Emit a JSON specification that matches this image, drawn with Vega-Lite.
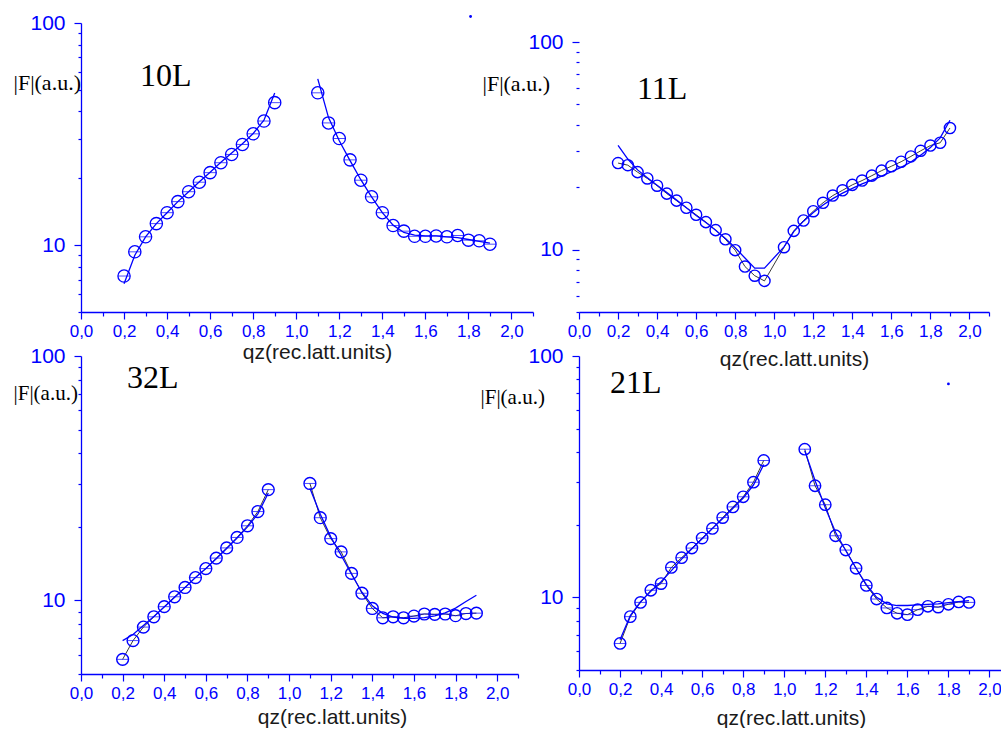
{
  "$schema": "https://vega.github.io/schema/vega-lite/v6.json",
  "padding": {"left": 13, "top": 12, "right": 0, "bottom": 0},
  "background": "white",
  "columns": 2,
  "align": "each",
  "bounds": "flush",
  "spacing": {"row": 44, "column": 46},
  "datasets": {
    "d10": [
      {"q":0.2,"F":7.26,"s":"a"},{"q":0.25,"F":9.33,"s":"a"},{"q":0.3,"F":10.9,"s":"a"},{"q":0.35,"F":12.5,"s":"a"},{"q":0.4,"F":14.0,"s":"a"},{"q":0.45,"F":15.7,"s":"a"},{"q":0.5,"F":17.4,"s":"a"},{"q":0.55,"F":19.2,"s":"a"},{"q":0.6,"F":21.2,"s":"a"},{"q":0.65,"F":23.5,"s":"a"},{"q":0.7,"F":25.6,"s":"a"},{"q":0.75,"F":28.4,"s":"a"},{"q":0.8,"F":31.7,"s":"a"},{"q":0.85,"F":36.2,"s":"a"},{"q":0.9,"F":43.8,"s":"a"},
      {"q":1.1,"F":48.5,"s":"b"},{"q":1.15,"F":35.5,"s":"b"},{"q":1.2,"F":30.2,"s":"b"},{"q":1.25,"F":24.2,"s":"b"},{"q":1.3,"F":19.6,"s":"b"},{"q":1.35,"F":16.5,"s":"b"},{"q":1.4,"F":14.0,"s":"b"},{"q":1.45,"F":12.25,"s":"b"},{"q":1.5,"F":11.56,"s":"b"},{"q":1.55,"F":10.96,"s":"b"},{"q":1.6,"F":10.96,"s":"b"},{"q":1.65,"F":11.0,"s":"b"},{"q":1.7,"F":10.9,"s":"b"},{"q":1.75,"F":11.05,"s":"b"},{"q":1.8,"F":10.53,"s":"b"},{"q":1.85,"F":10.46,"s":"b"},{"q":1.9,"F":10.1,"s":"b"}
    ],
    "f10": [
      {"q":0.2,"F":6.7,"s":"a"},{"q":0.25,"F":9.0,"s":"a"},{"q":0.3,"F":10.9,"s":"a"},{"q":0.35,"F":12.5,"s":"a"},{"q":0.4,"F":14.0,"s":"a"},{"q":0.45,"F":15.7,"s":"a"},{"q":0.5,"F":17.4,"s":"a"},{"q":0.55,"F":19.3,"s":"a"},{"q":0.6,"F":21.3,"s":"a"},{"q":0.65,"F":23.6,"s":"a"},{"q":0.7,"F":26.0,"s":"a"},{"q":0.75,"F":28.6,"s":"a"},{"q":0.8,"F":31.8,"s":"a"},{"q":0.85,"F":36.5,"s":"a"},{"q":0.9,"F":48.4,"s":"a"},
      {"q":1.1,"F":56,"s":"b"},{"q":1.15,"F":37.5,"s":"b"},{"q":1.2,"F":29.5,"s":"b"},{"q":1.25,"F":24,"s":"b"},{"q":1.3,"F":19.7,"s":"b"},{"q":1.35,"F":16.5,"s":"b"},{"q":1.4,"F":14.0,"s":"b"},{"q":1.45,"F":12.3,"s":"b"},{"q":1.5,"F":11.4,"s":"b"},{"q":1.55,"F":11.1,"s":"b"},{"q":1.6,"F":11.0,"s":"b"},{"q":1.65,"F":11.0,"s":"b"},{"q":1.7,"F":10.9,"s":"b"},{"q":1.75,"F":10.8,"s":"b"},{"q":1.8,"F":10.6,"s":"b"},{"q":1.85,"F":10.4,"s":"b"},{"q":1.9,"F":10.2,"s":"b"}
    ],
    "s10": [{"q":1.81,"F":107}],
    "d11": [
      {"q":0.2,"F":26.1},{"q":0.25,"F":25.5},{"q":0.3,"F":23.6},{"q":0.35,"F":22.0},{"q":0.4,"F":20.3},{"q":0.45,"F":18.6},{"q":0.5,"F":17.2},{"q":0.55,"F":15.9},{"q":0.6,"F":14.7},{"q":0.65,"F":13.55},{"q":0.7,"F":12.4},{"q":0.75,"F":11.2},{"q":0.8,"F":9.93},{"q":0.85,"F":8.28},{"q":0.9,"F":7.48},{"q":0.95,"F":7.06},{"q":1.05,"F":10.26},{"q":1.1,"F":12.3},{"q":1.15,"F":13.8},{"q":1.2,"F":15.3},{"q":1.25,"F":16.8},{"q":1.3,"F":18.2},{"q":1.35,"F":19.3},{"q":1.4,"F":20.5},{"q":1.45,"F":21.5},{"q":1.5,"F":22.7},{"q":1.55,"F":24.0},{"q":1.6,"F":25.2},{"q":1.65,"F":26.5},{"q":1.7,"F":28.1},{"q":1.75,"F":29.9},{"q":1.8,"F":31.7},{"q":1.85,"F":32.7},{"q":1.9,"F":38.5}
    ],
    "f11": [
      {"q":0.2,"F":31.8},{"q":0.25,"F":27.3},{"q":0.3,"F":24.2},{"q":0.35,"F":22.2},{"q":0.4,"F":20.4},{"q":0.45,"F":18.8},{"q":0.5,"F":17.3},{"q":0.55,"F":15.9},{"q":0.6,"F":14.6},{"q":0.65,"F":13.5},{"q":0.7,"F":12.4},{"q":0.75,"F":11.3},{"q":0.8,"F":10.2},{"q":0.85,"F":9.1},{"q":0.9,"F":8.13},{"q":0.95,"F":8.13},{"q":1.05,"F":10.3},{"q":1.1,"F":12.2},{"q":1.15,"F":13.7},{"q":1.2,"F":15.1},{"q":1.25,"F":16.4},{"q":1.3,"F":17.6},{"q":1.35,"F":18.7},{"q":1.4,"F":19.7},{"q":1.45,"F":20.7},{"q":1.5,"F":21.6},{"q":1.55,"F":22.6},{"q":1.6,"F":23.7},{"q":1.65,"F":24.9},{"q":1.7,"F":26.4},{"q":1.75,"F":28.5},{"q":1.8,"F":31.0},{"q":1.85,"F":34.5},{"q":1.9,"F":42.0}
    ],
    "d32": [
      {"q":0.2,"F":5.74,"s":"a"},{"q":0.25,"F":6.85,"s":"a"},{"q":0.3,"F":7.78,"s":"a"},{"q":0.35,"F":8.57,"s":"a"},{"q":0.4,"F":9.43,"s":"a"},{"q":0.45,"F":10.35,"s":"a"},{"q":0.5,"F":11.3,"s":"a"},{"q":0.55,"F":12.4,"s":"a"},{"q":0.6,"F":13.5,"s":"a"},{"q":0.65,"F":14.9,"s":"a"},{"q":0.7,"F":16.4,"s":"a"},{"q":0.75,"F":18.1,"s":"a"},{"q":0.8,"F":20.2,"s":"a"},{"q":0.85,"F":23.1,"s":"a"},{"q":0.9,"F":28.4,"s":"a"},
      {"q":1.1,"F":30.1,"s":"b"},{"q":1.15,"F":21.8,"s":"b"},{"q":1.2,"F":17.9,"s":"b"},{"q":1.25,"F":15.8,"s":"b"},{"q":1.3,"F":12.9,"s":"b"},{"q":1.35,"F":10.7,"s":"b"},{"q":1.4,"F":9.27,"s":"b"},{"q":1.45,"F":8.49,"s":"b"},{"q":1.5,"F":8.57,"s":"b"},{"q":1.55,"F":8.49,"s":"b"},{"q":1.6,"F":8.63,"s":"b"},{"q":1.65,"F":8.8,"s":"b"},{"q":1.7,"F":8.77,"s":"b"},{"q":1.75,"F":8.8,"s":"b"},{"q":1.8,"F":8.66,"s":"b"},{"q":1.85,"F":8.84,"s":"b"},{"q":1.9,"F":8.87,"s":"b"}
    ],
    "f32": [
      {"q":0.2,"F":6.85,"s":"a"},{"q":0.25,"F":7.25,"s":"a"},{"q":0.3,"F":7.9,"s":"a"},{"q":0.35,"F":8.6,"s":"a"},{"q":0.4,"F":9.4,"s":"a"},{"q":0.45,"F":10.3,"s":"a"},{"q":0.5,"F":11.3,"s":"a"},{"q":0.55,"F":12.4,"s":"a"},{"q":0.6,"F":13.5,"s":"a"},{"q":0.65,"F":14.8,"s":"a"},{"q":0.7,"F":16.3,"s":"a"},{"q":0.75,"F":18.0,"s":"a"},{"q":0.8,"F":20.0,"s":"a"},{"q":0.85,"F":22.6,"s":"a"},{"q":0.9,"F":27.5,"s":"a"},
      {"q":1.1,"F":28.8,"s":"b"},{"q":1.15,"F":22.5,"s":"b"},{"q":1.2,"F":18.2,"s":"b"},{"q":1.25,"F":15.3,"s":"b"},{"q":1.3,"F":12.8,"s":"b"},{"q":1.35,"F":10.8,"s":"b"},{"q":1.4,"F":9.5,"s":"b"},{"q":1.45,"F":8.85,"s":"b"},{"q":1.5,"F":8.55,"s":"b"},{"q":1.55,"F":8.45,"s":"b"},{"q":1.6,"F":8.45,"s":"b"},{"q":1.65,"F":8.5,"s":"b"},{"q":1.7,"F":8.65,"s":"b"},{"q":1.75,"F":8.9,"s":"b"},{"q":1.8,"F":9.3,"s":"b"},{"q":1.85,"F":9.9,"s":"b"},{"q":1.9,"F":10.5,"s":"b"}
    ],
    "d21": [
      {"q":0.2,"F":6.44,"s":"a"},{"q":0.25,"F":8.32,"s":"a"},{"q":0.3,"F":9.53,"s":"a"},{"q":0.35,"F":10.7,"s":"a"},{"q":0.4,"F":11.4,"s":"a"},{"q":0.45,"F":13.3,"s":"a"},{"q":0.5,"F":14.6,"s":"a"},{"q":0.55,"F":16.0,"s":"a"},{"q":0.6,"F":17.6,"s":"a"},{"q":0.65,"F":19.3,"s":"a"},{"q":0.7,"F":21.4,"s":"a"},{"q":0.75,"F":23.7,"s":"a"},{"q":0.8,"F":26.1,"s":"a"},{"q":0.85,"F":30.0,"s":"a"},{"q":0.9,"F":36.9,"s":"a"},
      {"q":1.1,"F":41.1,"s":"b"},{"q":1.15,"F":29.0,"s":"b"},{"q":1.2,"F":24.2,"s":"b"},{"q":1.25,"F":18.0,"s":"b"},{"q":1.3,"F":15.7,"s":"b"},{"q":1.35,"F":13.2,"s":"b"},{"q":1.4,"F":11.2,"s":"b"},{"q":1.45,"F":9.84,"s":"b"},{"q":1.5,"F":9.04,"s":"b"},{"q":1.55,"F":8.59,"s":"b"},{"q":1.6,"F":8.48,"s":"b"},{"q":1.65,"F":8.89,"s":"b"},{"q":1.7,"F":9.18,"s":"b"},{"q":1.75,"F":9.11,"s":"b"},{"q":1.8,"F":9.36,"s":"b"},{"q":1.85,"F":9.57,"s":"b"},{"q":1.9,"F":9.53,"s":"b"}
    ],
    "f21": [
      {"q":0.2,"F":6.68,"s":"a"},{"q":0.25,"F":8.4,"s":"a"},{"q":0.3,"F":9.6,"s":"a"},{"q":0.35,"F":10.6,"s":"a"},{"q":0.4,"F":11.6,"s":"a"},{"q":0.45,"F":12.9,"s":"a"},{"q":0.5,"F":14.4,"s":"a"},{"q":0.55,"F":15.9,"s":"a"},{"q":0.6,"F":17.5,"s":"a"},{"q":0.65,"F":19.3,"s":"a"},{"q":0.7,"F":21.2,"s":"a"},{"q":0.75,"F":23.4,"s":"a"},{"q":0.8,"F":25.8,"s":"a"},{"q":0.85,"F":29.2,"s":"a"},{"q":0.9,"F":35.5,"s":"a"},
      {"q":1.1,"F":40.5,"s":"b"},{"q":1.15,"F":30.5,"s":"b"},{"q":1.2,"F":23.5,"s":"b"},{"q":1.25,"F":18.6,"s":"b"},{"q":1.3,"F":15.6,"s":"b"},{"q":1.35,"F":13.2,"s":"b"},{"q":1.4,"F":11.3,"s":"b"},{"q":1.45,"F":10.0,"s":"b"},{"q":1.5,"F":9.4,"s":"b"},{"q":1.55,"F":9.25,"s":"b"},{"q":1.6,"F":9.25,"s":"b"},{"q":1.65,"F":9.3,"s":"b"},{"q":1.7,"F":9.35,"s":"b"},{"q":1.75,"F":9.4,"s":"b"},{"q":1.8,"F":9.5,"s":"b"},{"q":1.85,"F":9.6,"s":"b"},{"q":1.9,"F":9.7,"s":"b"}
    ],
    "s21": [{"q":1.8,"F":76.6}]
  },
  "concat": [
    {
      "width": 452, "height": 289,
      "encoding": {
        "x": {"field": "q", "type": "quantitative", "scale": {"domain": [0, 2.1], "nice": false, "zero": false},
          "axis": {"title": "qz(rec.latt.units)", "values": [0,0.1,0.2,0.3,0.4,0.5,0.6,0.7,0.8,0.9,1,1.1,1.2,1.3,1.4,1.5,1.6,1.7,1.8,1.9,2,2.1],
            "labelExpr": "round(datum.value*10) % 2 == 0 ? replace(format(datum.value, '.1f'), '.', ',') : ''",
            "tickSize": {"condition": {"test": "round(datum.value*10) % 2 == 0", "value": 7}, "value": 4},
            "titleX": 236, "titleY": 40}},
        "y": {"field": "F", "type": "quantitative", "scale": {"type": "log", "domain": [5, 100], "nice": false},
          "axis": {"title": "|F|(a.u.)", "values": [5,6,7,8,9,10,20,30,40,50,60,70,80,90,100],
            "labelExpr": "datum.value == 10 || datum.value == 100 ? format(datum.value, 'd') : ''",
            "tickSize": {"condition": {"test": "datum.value == 10 || datum.value == 100", "value": 7}, "value": 3},
            "titleX": -68, "titleY": 66, "titleFontSize": 22}}
      },
      "layer": [
        {"data": {"name": "f10"}, "mark": {"type": "line", "color": "#0000ff", "strokeWidth": 1.3}, "encoding": {"detail": {"field": "s"}}},
        {"data": {"name": "d10"}, "mark": {"type": "point", "shape": "circle", "filled": false, "color": "#0000ff", "size": 150, "strokeWidth": 1.3, "opacity": 1}},
        {"data": {"name": "d10"}, "mark": {"type": "tick", "orient": "horizontal", "color": "#0000ff", "size": 12, "thickness": 1}},
        {"data": {"name": "s10"}, "mark": {"type": "point", "shape": "circle", "filled": true, "color": "#0000ff", "size": 8, "opacity": 1}},
        {"data": {"values": [{"t": "10L", "q": 0.274, "F": 52.2}]}, "mark": {"type": "text", "align": "left", "baseline": "alphabetic", "font": "Liberation Serif", "fontSize": 32, "color": "#000000"}, "encoding": {"text": {"field": "t"}}}
      ]
    },
    {
      "width": 410, "height": 289,
      "encoding": {
        "x": {"field": "q", "type": "quantitative", "scale": {"domain": [0, 2.1], "nice": false, "zero": false},
          "axis": {"title": "qz(rec.latt.units)", "values": [0,0.1,0.2,0.3,0.4,0.5,0.6,0.7,0.8,0.9,1,1.1,1.2,1.3,1.4,1.5,1.6,1.7,1.8,1.9,2,2.1],
            "labelExpr": "round(datum.value*10) % 2 == 0 ? replace(format(datum.value, '.1f'), '.', ',') : ''",
            "tickSize": {"condition": {"test": "round(datum.value*10) % 2 == 0", "value": 7}, "value": 4},
            "titleX": 215, "titleY": 47}},
        "y": {"field": "F", "type": "quantitative", "scale": {"type": "log", "domain": [5, 123.5], "nice": false},
          "axis": {"title": "|F|(a.u.)", "domain": false, "values": [5,6,7,8,9,10,20,30,40,50,60,70,80,90,100],
            "labelExpr": "datum.value == 10 || datum.value == 100 ? format(datum.value, 'd') : ''",
            "tickSize": {"condition": {"test": "datum.value == 10 || datum.value == 100", "value": 7}, "value": 3},
            "titleX": -97, "titleY": 67, "titleFontSize": 22}}
      },
      "layer": [
        {"data": {"values": [{}]}, "mark": {"type": "rule", "color": "#0000ff", "strokeWidth": 1.3}, "encoding": {"x": {"datum": 0}, "y": {"datum": 5}, "y2": {"datum": 100}}},
        {"data": {"name": "d11"}, "mark": {"type": "line", "color": "#222222", "strokeWidth": 0.9}},
        {"data": {"name": "f11"}, "mark": {"type": "line", "color": "#0000ff", "strokeWidth": 1.3}},
        {"data": {"name": "d11"}, "mark": {"type": "point", "shape": "circle", "filled": false, "color": "#0000ff", "size": 125, "strokeWidth": 1.4, "opacity": 1}},
        {"data": {"values": [{"t": "11L", "q": 0.297, "F": 53.0}]}, "mark": {"type": "text", "align": "left", "baseline": "alphabetic", "font": "Liberation Serif", "fontSize": 32, "color": "#000000"}, "encoding": {"text": {"field": "t"}}}
      ]
    },
    {
      "width": 437, "height": 318,
      "encoding": {
        "x": {"field": "q", "type": "quantitative", "scale": {"domain": [0, 2.1], "nice": false, "zero": false},
          "axis": {"title": "qz(rec.latt.units)", "values": [0,0.1,0.2,0.3,0.4,0.5,0.6,0.7,0.8,0.9,1,1.1,1.2,1.3,1.4,1.5,1.6,1.7,1.8,1.9,2,2.1],
            "labelExpr": "round(datum.value*10) % 2 == 0 ? replace(format(datum.value, '.1f'), '.', ',') : ''",
            "tickSize": {"condition": {"test": "round(datum.value*10) % 2 == 0", "value": 7}, "value": 4},
            "titleX": 251, "titleY": 43}},
        "y": {"field": "F", "type": "quantitative", "scale": {"type": "log", "domain": [5, 100], "nice": false},
          "axis": {"title": "|F|(a.u.)", "values": [5,6,7,8,9,10,20,30,40,50,60,70,80,90,100],
            "labelExpr": "datum.value == 10 || datum.value == 100 ? format(datum.value, 'd') : ''",
            "tickSize": {"condition": {"test": "datum.value == 10 || datum.value == 100", "value": 7}, "value": 3},
            "titleX": -68, "titleY": 43, "titleFontSize": 21}}
      },
      "layer": [
        {"data": {"name": "d32"}, "mark": {"type": "line", "color": "#222222", "strokeWidth": 0.9}, "encoding": {"detail": {"field": "s"}}},
        {"data": {"name": "f32"}, "mark": {"type": "line", "color": "#0000ff", "strokeWidth": 1.3}, "encoding": {"detail": {"field": "s"}}},
        {"data": {"name": "d32"}, "mark": {"type": "point", "shape": "circle", "filled": false, "color": "#0000ff", "size": 140, "strokeWidth": 1.4, "opacity": 1}},
        {"data": {"name": "d32"}, "mark": {"type": "tick", "orient": "horizontal", "color": "#0000ff", "size": 11, "thickness": 1}},
        {"data": {"values": [{"t": "32L", "q": 0.221, "F": 74.1}]}, "mark": {"type": "text", "align": "left", "baseline": "alphabetic", "font": "Liberation Serif", "fontSize": 32, "color": "#000000"}, "encoding": {"text": {"field": "t"}}}
      ]
    },
    {
      "width": 431, "height": 314,
      "encoding": {
        "x": {"field": "q", "type": "quantitative", "scale": {"domain": [0, 2.1], "nice": false, "zero": false},
          "axis": {"title": "qz(rec.latt.units)", "values": [0,0.1,0.2,0.3,0.4,0.5,0.6,0.7,0.8,0.9,1,1.1,1.2,1.3,1.4,1.5,1.6,1.7,1.8,1.9,2,2.1],
            "labelExpr": "round(datum.value*10) % 2 == 0 ? replace(format(datum.value, '.1f'), '.', ',') : ''",
            "tickSize": {"condition": {"test": "round(datum.value*10) % 2 == 0", "value": 7}, "value": 4},
            "titleX": 212, "titleY": 48}},
        "y": {"field": "F", "type": "quantitative", "scale": {"type": "log", "domain": [5, 100], "nice": false},
          "axis": {"title": "|F|(a.u.)", "values": [5,6,7,8,9,10,20,30,40,50,60,70,80,90,100],
            "labelExpr": "datum.value == 10 || datum.value == 100 ? format(datum.value, 'd') : ''",
            "tickSize": {"condition": {"test": "datum.value == 10 || datum.value == 100", "value": 7}, "value": 3},
            "titleX": -99, "titleY": 47, "titleFontSize": 21}}
      },
      "layer": [
        {"data": {"name": "d21"}, "mark": {"type": "line", "color": "#222222", "strokeWidth": 0.9}, "encoding": {"detail": {"field": "s"}}},
        {"data": {"name": "f21"}, "mark": {"type": "line", "color": "#0000ff", "strokeWidth": 1.3}, "encoding": {"detail": {"field": "s"}}},
        {"data": {"name": "d21"}, "mark": {"type": "point", "shape": "circle", "filled": false, "color": "#0000ff", "size": 130, "strokeWidth": 1.4, "opacity": 1}},
        {"data": {"name": "d21"}, "mark": {"type": "tick", "orient": "horizontal", "color": "#0000ff", "size": 11, "thickness": 1}},
        {"data": {"name": "s21"}, "mark": {"type": "point", "shape": "circle", "filled": true, "color": "#0000ff", "size": 8, "opacity": 1}},
        {"data": {"values": [{"t": "21L", "q": 0.151, "F": 70.3}]}, "mark": {"type": "text", "align": "left", "baseline": "alphabetic", "font": "Liberation Serif", "fontSize": 32, "color": "#000000"}, "encoding": {"text": {"field": "t"}}}
      ]
    }
  ],
  "config": {
    "view": {"stroke": null},
    "axis": {"grid": false, "domainColor": "#0000ff", "domainWidth": 1.3, "tickColor": "#0000ff", "tickWidth": 1.2, "labelColor": "#0000ff", "labelFont": "Liberation Sans", "titleFont": "Liberation Sans", "titleFontWeight": "normal", "labelFlush": false, "labelOverlap": false},
    "axisX": {"labelFontSize": 17, "labelPadding": 4, "titleFontSize": 21, "titleColor": "#1a1a1a", "titleBaseline": "middle", "titleAlign": "center"},
    "axisY": {"labelFontSize": 21, "labelPadding": 9, "titleFont": "Liberation Serif", "titleColor": "#000000", "titleAngle": 0, "titleAlign": "left", "titleBaseline": "alphabetic"}
  }
}
